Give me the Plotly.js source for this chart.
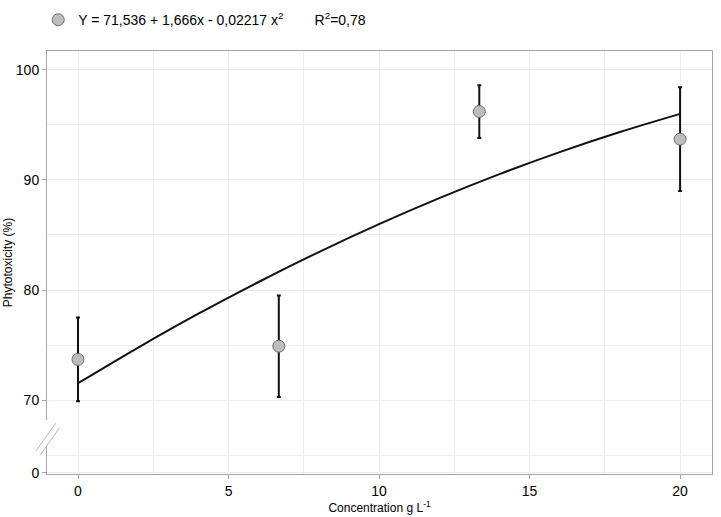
<!DOCTYPE html>
<html>
<head>
<meta charset="utf-8">
<script src="https://cdn.plot.ly/plotly-3.0.1.min.js"></script>
<style>
  html, body { margin: 0; padding: 0; background: #fff; }
  #chart { width: 721px; height: 517px; }
</style>
</head>
<body>
<div id="chart"></div>
<script>
// observed means and error bars
const conc = [0, 6.67, 13.33, 20]
const phyto = [73.7, 74.9, 96.2, 93.7]
const phytoErr = [3.8, 4.6, 2.4, 4.7]

// fitted curve
const fitX = [0, 2, 4, 6, 8, 10, 12, 14, 16, 18, 20]
const fitY = [71.54, 74.78, 77.85, 80.73, 83.45, 85.98, 88.34, 90.52, 92.52, 94.34, 95.99]

// y axis is broken: the "0" label sits just below 65
const yTickVals = [63.4, 70, 80, 90, 100]
const yTickText = ["0", "70", "80", "90", "100"]
const xTickVals = [0, 5, 10, 15, 20]

const legendText = "Y = 71,536 + 1,666x - 0,02217 x<sup>2</sup>\u00a0\u00a0\u00a0\u00a0\u00a0\u00a0\u00a0\u00a0R<sup>2</sup>=0,78"

const fit = {
  x: fitX,
  y: fitY,
  mode: "lines",
  type: "scatter",
  line: { color: "#111", width: 2, shape: "spline" },
  showlegend: false,
  hoverinfo: "skip",
}

const pts = {
  x: conc,
  y: phyto,
  mode: "markers",
  type: "scatter",
  name: legendText,
  marker: { size: 12, color: "#bdbdbd", line: { color: "#6e6e6e", width: 1 } },
  error_y: { type: "data", array: phytoErr, visible: true, color: "#111", thickness: 2, width: 2 },
}

const gridCol = "#ececec"
const axCol = "#a6a6a6"

const layout = {
  width: 721,
  height: 517,
  margin: { l: 47, r: 9, t: 51, b: 43, autoexpand: false },
  paper_bgcolor: "#fff",
  plot_bgcolor: "#fff",
  font: { family: "Liberation Sans, Arial, sans-serif", color: "#000", size: 14 },
  showlegend: true,
  legend: {
    orientation: "h",
    xref: "container",
    yref: "container",
    x: 0.053,
    xanchor: "left",
    y: 0.992,
    yanchor: "top",
    font: { size: 14 },
    bgcolor: "rgba(0,0,0,0)",
  },
  xaxis: {
    range: [-1.03, 21.06],
    tickvals: xTickVals,
    ticks: "outside",
    ticklen: 4,
    tickcolor: axCol,
    showline: true,
    linecolor: axCol,
    linewidth: 1,
    mirror: true,
    showgrid: true,
    gridcolor: gridCol,
    zeroline: false,
    minor: { dtick: 2.5, tick0: 0, showgrid: true, gridcolor: gridCol },
    title: { text: "Concentration g L<sup>-1</sup>", font: { size: 12 }, standoff: 3 },
  },
  yaxis: {
    range: [63.3, 101.7],
    tickvals: yTickVals,
    ticktext: yTickText,
    ticks: "outside",
    ticklen: 4,
    tickcolor: axCol,
    showline: true,
    linecolor: axCol,
    linewidth: 1,
    mirror: true,
    showgrid: true,
    gridcolor: gridCol,
    zeroline: false,
    minor: { dtick: 5, tick0: 0, showgrid: true, gridcolor: gridCol },
    title: { text: "Phytotoxicity (%)", font: { size: 12 }, standoff: 0 },
  },
  shapes: [
    // gap in the left axis line for the break
    { type: "rect", xref: "paper", yref: "y", x0: -0.01, x1: 0.004, y0: 65.8, y1: 68.2,
      fillcolor: "#fff", line: { width: 0 }, layer: "above" },
    { type: "line", xref: "paper", yref: "y", x0: -0.0165, x1: 0.013, y0: 65.4, y1: 67.9,
      line: { color: "#b5b5b5", width: 1 }, layer: "above" },
    { type: "line", xref: "paper", yref: "y", x0: -0.0105, x1: 0.019, y0: 65.0, y1: 67.5,
      line: { color: "#b5b5b5", width: 1 }, layer: "above" },
  ],
}

Plotly.newPlot("chart", [fit, pts], layout, { displayModeBar: false, staticPlot: true })
</script>
</body>
</html>
